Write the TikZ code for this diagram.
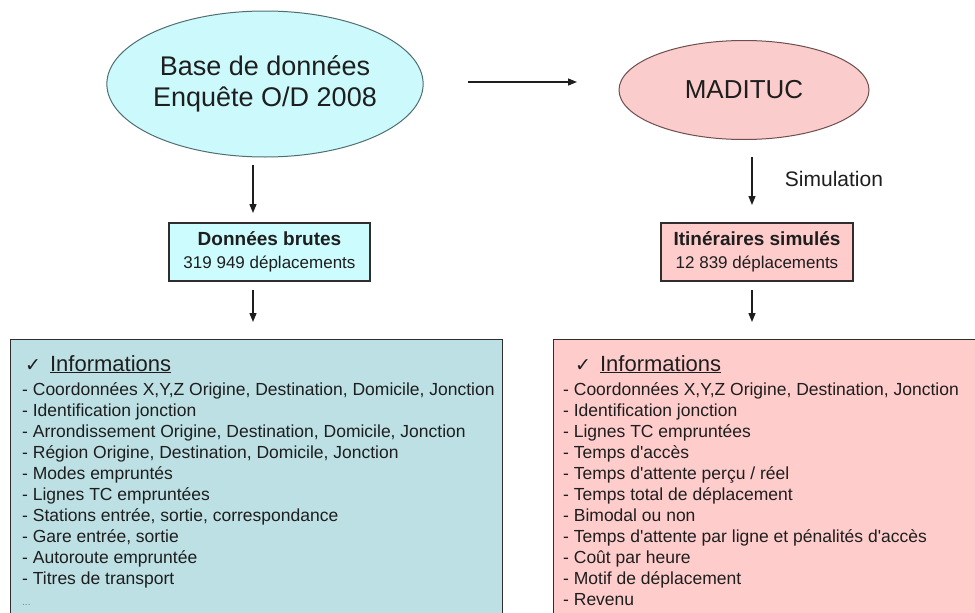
\documentclass[tikz,border=0pt]{standalone}
\usepackage{fontspec}
\setmainfont{Liberation Sans}
\newfontfamily\djv{DejaVu Sans}
\usetikzlibrary{shapes.geometric,arrows.meta}
\definecolor{cyanE}{RGB}{204,250,252}
\definecolor{cyanEd}{RGB}{80,110,112}
\definecolor{cyanM}{RGB}{204,252,254}
\definecolor{cyanB}{RGB}{188,224,228}
\definecolor{pinkE}{RGB}{250,204,204}
\definecolor{pinkEd}{RGB}{110,78,78}
\definecolor{pinkM}{RGB}{255,204,204}
\definecolor{pinkB}{RGB}{255,204,204}
\definecolor{txt}{RGB}{30,30,30}
\definecolor{boxline}{RGB}{50,45,45}
\begin{document}
\begin{tikzpicture}[x=1pt,y=-1pt,
  ell/.style={ellipse, line width=1pt, inner sep=0pt, text=txt},
  midbox/.style={draw=boxline, line width=1.2pt, inner sep=0pt, align=center, text=txt,
                 font=\fontsize{17}{23}\selectfont},
  bigbox/.style={draw=boxline, line width=1.2pt, inner sep=0pt, anchor=north west},
  arr/.style={line width=1.3pt, draw=txt, -{Triangle[length=9pt,width=7pt]}},
  ttl/.style={anchor=base west, inner sep=0pt, text=txt, font=\fontsize{22}{26}\selectfont},
  lst/.style={anchor=base west, inner sep=0pt, text=txt, font=\fontsize{17.5}{21}\selectfont}
]
\useasboundingbox (0,0) rectangle (975,613);
\clip (0,0) rectangle (975,613);
\fill[white] (0,0) rectangle (975,613);

% top ellipses
\node[ell, fill=cyanE, draw=cyanEd, minimum width=306pt, minimum height=146pt,
      align=center, font=\fontsize{27}{31}\selectfont] (bd) at (265,84)
      {Base de données\\Enquête O/D 2008};
\node[ell, fill=pinkE, draw=pinkEd, minimum width=250pt, minimum height=99pt,
      font=\fontsize{26}{30}\selectfont] (mad) at (744,90) {MADITUC};

% middle boxes
\node[midbox, fill=cyanM, minimum width=201pt, minimum height=58pt] (db) at (269.5,252)
  {{\fontsize{19}{23}\selectfont\bfseries Données brutes}\\319 949 déplacements};
\node[midbox, fill=pinkM, minimum width=192pt, minimum height=58pt] (it) at (757,252)
  {{\fontsize{19}{23}\selectfont\bfseries Itinéraires simulés}\\12 839 déplacements};

% bottom boxes
\node[bigbox, fill=cyanB, minimum width=492pt, minimum height=300pt] (infoL) at (10,339) {};
\node[bigbox, fill=pinkB, minimum width=450pt, minimum height=300pt] (infoR) at (553,339) {};

\node[ttl] (tL) at (25,371) {{\djv\fontsize{19}{22}\selectfont ✓}\hspace{9pt}\underline{Informations}};
\node[ttl] (tR) at (575,371) {{\djv\fontsize{19}{22}\selectfont ✓}\hspace{9pt}\underline{Informations}};

\node[lst] (lL) at (22,395) {\begin{tabular}[t]{@{}l@{}}
- Coordonnées X,Y,Z Origine, Destination, Domicile, Jonction\\
- Identification jonction\\
- Arrondissement Origine, Destination, Domicile, Jonction\\
- Région Origine, Destination, Domicile, Jonction\\
- Modes empruntés\\
- Lignes TC empruntées\\
- Stations entrée, sortie, correspondance\\
- Gare entrée, sortie\\
- Autoroute empruntée\\
- Titres de transport\\
{\color{gray}\fontsize{10}{21}\selectfont ...}
\end{tabular}};

\node[lst] (lR) at (563,395) {\begin{tabular}[t]{@{}l@{}}
- Coordonnées X,Y,Z Origine, Destination, Jonction\\
- Identification jonction\\
- Lignes TC empruntées\\
- Temps d\textquotesingle accès\\
- Temps d\textquotesingle attente perçu / réel\\
- Temps total de déplacement\\
- Bimodal ou non\\
- Temps d\textquotesingle attente par ligne et pénalités d\textquotesingle accès\\
- Coût par heure\\
- Motif de déplacement\\
- Revenu
\end{tabular}};

% label
\node[text=txt, font=\fontsize{21}{24}\selectfont, inner sep=0pt] (sim) at (834,179) {Simulation};

% arrows
\coordinate (h1) at (468,82);  \coordinate (h2) at (577,82);
\coordinate (a1) at (253,165); \coordinate (a2) at (253,213);
\coordinate (b1) at (253,290); \coordinate (b2) at (253,322);
\coordinate (c1) at (752,157); \coordinate (c2) at (752,205);
\coordinate (d1) at (752,290); \coordinate (d2) at (752,322);
\draw[arr] (h1) -- (h2);
\draw[arr] (a1) -- (a2);
\draw[arr] (b1) -- (b2);
\draw[arr] (c1) -- (c2);
\draw[arr] (d1) -- (d2);
\end{tikzpicture}
\end{document}
